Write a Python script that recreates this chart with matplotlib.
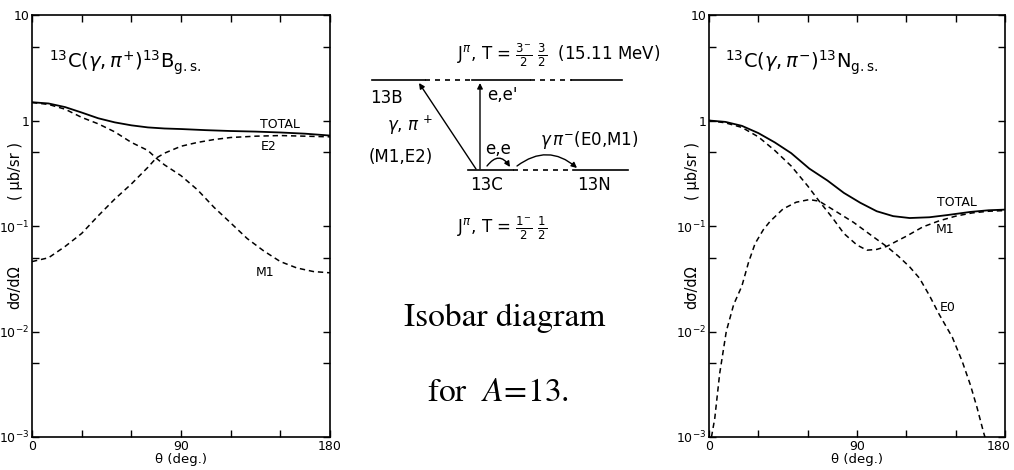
import numpy as np
import matplotlib
matplotlib.use("Agg")
import matplotlib.pyplot as plt
import matplotlib.transforms as mtransforms
from matplotlib.patches import FancyArrowPatch
from matplotlib.ticker import FixedLocator, FixedFormatter, NullFormatter

# ---- 13C(gamma,pi+)13B g.s. : angle (deg) vs dsigma/dOmega (mub/sr)
th_b_tot = [0, 10, 20, 30, 40, 50, 60, 70, 80, 90, 105, 120, 135, 150, 165, 180]
b_tot = [1.49, 1.45, 1.34, 1.19, 1.05, 0.96, 0.90, 0.86, 0.84, 0.83, 0.81, 0.795, 0.785, 0.77, 0.75, 0.72]

th_b_m1 = [0, 10, 20, 30, 40, 50, 60, 70, 75, 80, 90, 100, 110, 120, 130, 140, 150, 160, 170, 180]
b_m1 = [1.48, 1.42, 1.28, 1.07, 0.93, 0.78, 0.62, 0.52, 0.44, 0.38, 0.30, 0.22, 0.15, 0.107,
        0.076, 0.058, 0.046, 0.040, 0.037, 0.036]

th_b_e2 = [0, 10, 20, 30, 40, 50, 60, 70, 75, 80, 90, 100, 110, 120, 135, 150, 165, 180]
b_e2 = [0.046, 0.050, 0.064, 0.085, 0.125, 0.18, 0.25, 0.36, 0.44, 0.49, 0.57, 0.62, 0.66,
        0.69, 0.71, 0.72, 0.71, 0.70]

# ---- 13C(gamma,pi-)13N g.s.
th_n_tot = [0, 10, 20, 30, 40, 50, 61, 72, 82, 92, 102, 112, 122, 134, 145, 159, 170, 180]
n_tot = [1.0, 0.97, 0.89, 0.76, 0.62, 0.49, 0.35, 0.27, 0.206, 0.166, 0.138, 0.124, 0.119,
         0.121, 0.127, 0.136, 0.141, 0.143]

th_n_m1 = [0, 10, 20, 30, 40, 50, 60, 67, 75, 82, 90, 96, 102, 108, 115, 120, 130, 140, 150,
           160, 170, 180]
n_m1 = [1.0, 0.95, 0.86, 0.70, 0.52, 0.37, 0.24, 0.172, 0.12, 0.085, 0.066, 0.059, 0.060,
        0.064, 0.073, 0.080, 0.098, 0.112, 0.124, 0.133, 0.138, 0.14]

th_n_e0 = [1.5, 3.5, 6.5, 10.5, 15, 20, 24, 28, 33, 37, 45, 53, 61, 67, 78, 88, 98, 108, 115,
           122, 128, 134, 140, 148, 154, 159, 163, 167, 168.5]
n_e0 = [0.001, 0.0015, 0.004, 0.010, 0.018, 0.027, 0.045, 0.068, 0.092, 0.11, 0.145, 0.168,
        0.178, 0.172, 0.135, 0.108, 0.083, 0.064, 0.052, 0.041, 0.032, 0.022, 0.0145, 0.0088,
        0.0052, 0.0031, 0.0019, 0.0011, 0.00092]

ytick_vals = [1e-3, 1e-2, 1e-1, 1, 10]
ytick_txt = [r"$10^{-3}$", r"$10^{-2}$", r"$10^{-1}$", "1", "10"]
xtick_vals = [0, 90, 180]

plt.rcParams["font.family"] = ["DejaVu Sans"]
plt.rcParams["mathtext.fontset"] = "dejavusans"

fig = plt.figure(figsize=(10.14, 4.70), dpi=100)

# schematic in the middle, drawn in pixel units
dia = fig.add_axes([0, 0, 1, 1])
dia.set_xlim(0, 1014)
dia.set_ylim(470, 0)
dia.set_axis_off()


def panel(rect, curves, title, labels):
    ax = fig.add_axes(rect)
    for th, val, ls in curves:
        if ls == "-":
            ax.plot(th, val, color="black", lw=1.3)
        else:
            ax.plot(th, val, color="black", lw=1.1, ls=(0, (3.5, 2.5)))
    ax.set_yscale("log")
    ax.set_xlim(0, 180)
    ax.set_ylim(1e-3, 10)
    ax.yaxis.set_major_locator(FixedLocator(ytick_vals))
    ax.yaxis.set_major_formatter(FixedFormatter(ytick_txt))
    ax.yaxis.set_minor_locator(FixedLocator([5e-3, 5e-2, 5e-1, 5]))
    ax.yaxis.set_minor_formatter(NullFormatter())
    ax.xaxis.set_major_locator(FixedLocator(xtick_vals))
    ax.xaxis.set_minor_locator(FixedLocator([30, 60, 120, 150]))
    ax.tick_params(which="both", direction="in", top=True, right=True,
                   length=5, width=1.0, labelsize=9, pad=2)
    for s in ax.spines.values():
        s.set_linewidth(1.2)
    ax.set_xlabel("θ (deg.)", fontsize=9.5, labelpad=0)
    # y label in two pieces, either side of the 10^-1 tick label
    ax.text(-0.057, 0.355, "dσ/dΩ", transform=ax.transAxes, rotation=90,
            fontsize=10.5, ha="center", va="center")
    ax.text(-0.057, 0.63, "( μb/sr )", transform=ax.transAxes, rotation=90,
            fontsize=10.5, ha="center", va="center")
    ax.text(10, 3.5, title, fontsize=14, va="center", ha="left")
    for txt, x, y in labels:
        ax.text(x, y, txt, fontsize=9, ha="center", va="center")
    return ax


axl = panel([32 / 1014, 33 / 470, 298 / 1014, 422 / 470],
            [(th_b_tot, b_tot, "-"), (th_b_m1, b_m1, "--"), (th_b_e2, b_e2, "--")],
            r"$^{13}$C$(\gamma,\pi^{+})^{13}$B$_{\rm g.s.}$",
            [("TOTAL", 150, 0.92), ("E2", 143, 0.57), ("M1", 141, 0.036)])

axr = panel([709 / 1014, 33 / 470, 296 / 1014, 422 / 470],
            [(th_n_tot, n_tot, "-"), (th_n_m1, n_m1, "--"), (th_n_e0, n_e0, "--")],
            r"$^{13}$C$(\gamma,\pi^{-})^{13}$N$_{\rm g.s.}$",
            [("TOTAL", 151, 0.167), ("M1", 143.5, 0.093), ("E0", 145, 0.017)])

# keep the right-hand "180" inside the figure
last = axr.xaxis.get_major_ticks()[-1].label1
last.set_horizontalalignment("right")
last.set_transform(last.get_transform() +
                   mtransforms.ScaledTranslation(6 / 100, 0, fig.dpi_scale_trans))

# level lines: upper T=3/2 state, lower ground states
k = dict(color="black", lw=1.2)
dia.plot([372, 425], [80, 80], **k)
dia.plot([425, 472], [80, 80], ls=(0, (3, 3)), **k)
dia.plot([472, 530], [80, 80], **k)
dia.plot([530, 572], [80, 80], ls=(0, (3, 3)), **k)
dia.plot([572, 622], [80, 80], **k)
dia.plot([468, 513], [170, 170], **k)
dia.plot([513, 573], [170, 170], ls=(0, (3, 3)), **k)
dia.plot([573, 628], [170, 170], **k)

arr = dict(arrowstyle="-|>", mutation_scale=8, color="black", lw=1.0, shrinkA=0, shrinkB=0)
dia.add_patch(FancyArrowPatch((476, 169), (419, 83), **arr))
dia.add_patch(FancyArrowPatch((480, 169), (480, 83), **arr))
dia.add_patch(FancyArrowPatch((487, 166), (510, 167), connectionstyle="arc3,rad=-0.7", **arr))
dia.add_patch(FancyArrowPatch((517, 166), (577, 168), connectionstyle="arc3,rad=-0.4", **arr))

fs = 12
dia.text(559, 55, r"J$^{\pi}$, T = $\frac{3^{-}}{2}\ \frac{3}{2}$  (15.11 MeV)", fontsize=fs,
         ha="center", va="center")
dia.text(386, 98, "13B", fontsize=fs, ha="center", va="center")
dia.text(502, 95, "e,e'", fontsize=fs, ha="center", va="center")
dia.text(410, 125, r"$\gamma$, $\pi^{\,+}$", fontsize=fs, ha="center", va="center")
dia.text(401, 157, "(M1,E2)", fontsize=fs, ha="center", va="center")
dia.text(498, 149, "e,e", fontsize=fs, ha="center", va="center")
dia.text(589, 140, r"$\gamma\,\pi^{-}$(E0,M1)", fontsize=fs, ha="center", va="center")
dia.text(486, 185, "13C", fontsize=fs, ha="center", va="center")
dia.text(594, 185, "13N", fontsize=fs, ha="center", va="center")
dia.text(502, 228, r"J$^{\pi}$, T = $\frac{1^{-}}{2}\ \frac{1}{2}$", fontsize=fs,
         ha="center", va="center")

dia.text(505, 318, "Isobar diagram", fontsize=24, family="STIXGeneral",
         ha="center", va="center")
dia.text(498, 393, r"for  $A\!=\!13.$", fontsize=24, family="STIXGeneral",
         math_fontfamily="stix", ha="center", va="center")

fig.savefig("out.png", dpi=100)
